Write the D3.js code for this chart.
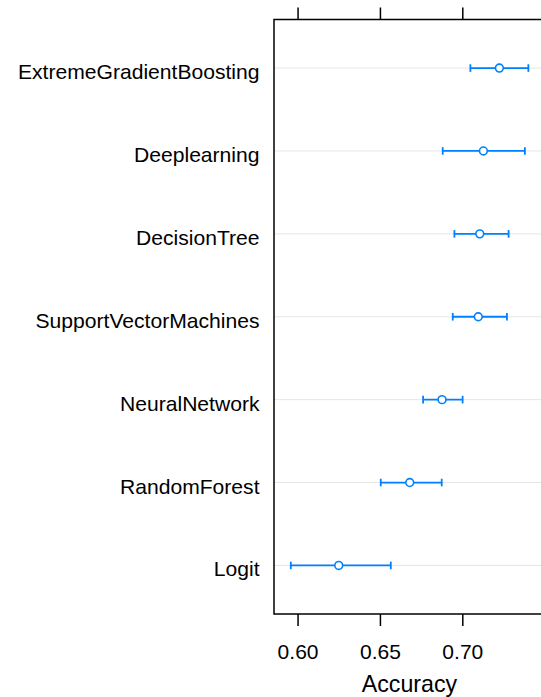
<!DOCTYPE html>
<html><head><meta charset="utf-8">
<script src="https://cdn.jsdelivr.net/npm/d3@7"></script>
<style>body{margin:0;background:#fff;} svg{display:block;}</style>
</head><body>
<script>
const models = ["ExtremeGradientBoosting","Deeplearning","DecisionTree","SupportVectorMachines","NeuralNetwork","RandomForest","Logit"];
const accuracy = [0.7225,0.7128,0.7106,0.7097,0.6877,0.6681,0.6250];
const lower    = [0.7049,0.6881,0.6952,0.6942,0.6762,0.6505,0.5959];
const upper    = [0.7401,0.7380,0.7281,0.7271,0.7002,0.6875,0.6566];
const xTicks = [0.60,0.65,0.70];
const xTitle = "Accuracy";

(function(){
const W=541,H=697;
const pL=274, pR=545, pT=19.5, pB=614;
const svg=d3.select("body").append("svg").attr("width",W).attr("height",H);
const x=d3.scaleLinear().domain([0.5857,0.7502]).range([pL,pR]);
const y=d3.scalePoint().domain(models).range([pT,pB]).padding(0.586);
const blue="#0080ff";
const font="Liberation Sans, Arial, sans-serif";

svg.append("g").selectAll("line").data(models).join("line")
  .attr("x1",pL).attr("x2",pR).attr("y1",d=>y(d)).attr("y2",d=>y(d))
  .attr("stroke","#e6e6e6").attr("stroke-width",1);

const g=svg.append("g");
models.forEach((m,i)=>{
  const yy=y(m);
  g.append("line").attr("x1",x(lower[i])).attr("x2",x(upper[i])).attr("y1",yy).attr("y2",yy)
    .attr("stroke",blue).attr("stroke-width",1.8);
  [lower[i],upper[i]].forEach(v=>{
    g.append("line").attr("x1",x(v)).attr("x2",x(v)).attr("y1",yy-3.8).attr("y2",yy+3.8)
      .attr("stroke",blue).attr("stroke-width",1.8);
  });
  g.append("circle").attr("cx",x(accuracy[i])).attr("cy",yy).attr("r",3.9)
    .attr("fill","#fff").attr("stroke",blue).attr("stroke-width",1.6);
});

svg.append("rect").attr("x",pL).attr("y",pT).attr("width",pR-pL).attr("height",pB-pT)
  .attr("fill","none").attr("stroke","#000").attr("stroke-width",1.5);

const axB=d3.axisBottom(x).tickValues(xTicks).tickSize(12).tickPadding(0).tickFormat(d3.format(".2f"));
const axT=d3.axisTop(x).tickValues(xTicks).tickSize(12).tickFormat("");
const gb=svg.append("g").attr("transform",`translate(0,${pB})`).call(axB);
const gt=svg.append("g").attr("transform",`translate(0,${pT})`).call(axT);
[gb,gt].forEach(a=>{a.select(".domain").remove();a.selectAll(".tick line").attr("stroke","#000").attr("stroke-width",1.5);});
gb.selectAll(".tick text").attr("font-family",font).attr("font-size",21).attr("fill","#000")
  .attr("y",45).attr("dy",null);

svg.append("g").selectAll("text").data(models).join("text")
  .attr("x",259.5).attr("y",d=>y(d)+11).attr("text-anchor","end")
  .attr("font-family",font).attr("font-size",21.1).attr("fill","#000").text(d=>d);

svg.append("text").attr("x",(pL+pR)/2).attr("y",692).attr("text-anchor","middle")
  .attr("font-family",font).attr("font-size",23.2).attr("fill","#000").text(xTitle);
})();
</script>
</body></html>
